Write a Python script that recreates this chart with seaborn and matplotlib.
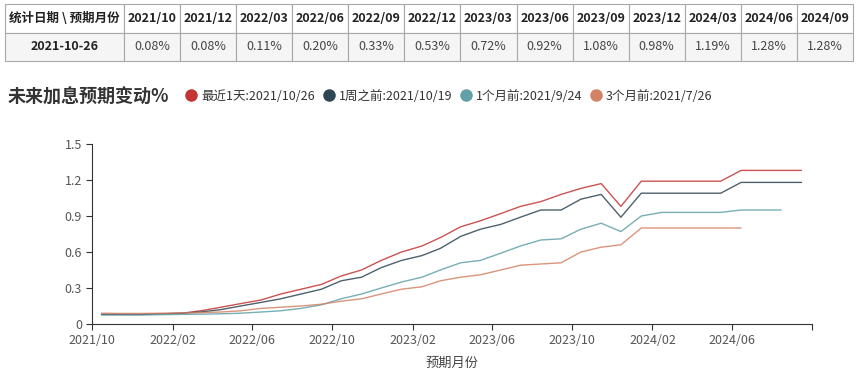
import matplotlib
matplotlib.use("Agg")
import matplotlib.pyplot as plt
import matplotlib.dates as mdates
from matplotlib.lines import Line2D
import matplotlib.ticker as mticker
import seaborn as sns
import pandas as pd

# expected month axis: 2021/10 .. 2024/09
months = pd.date_range("2021-10-01", "2024-09-01", freq="MS")

latest = [0.08, 0.08, 0.08, 0.085, 0.09, 0.11, 0.14, 0.17, 0.20, 0.25, 0.29, 0.33,
          0.40, 0.45, 0.53, 0.60, 0.65, 0.72, 0.81, 0.86, 0.92, 0.98, 1.02, 1.08,
          1.13, 1.17, 0.98, 1.19, 1.19, 1.19, 1.19, 1.19, 1.28, 1.28, 1.28, 1.28]
week_ago = [0.08, 0.08, 0.08, 0.085, 0.09, 0.10, 0.12, 0.15, 0.18, 0.21, 0.25, 0.29,
            0.36, 0.39, 0.47, 0.53, 0.57, 0.63, 0.73, 0.79, 0.83, 0.89, 0.95, 0.95,
            1.04, 1.08, 0.89, 1.09, 1.09, 1.09, 1.09, 1.09, 1.18, 1.18, 1.18, 1.18]
month_ago = [0.075, 0.075, 0.075, 0.078, 0.08, 0.082, 0.085, 0.09, 0.10, 0.11, 0.13, 0.16,
             0.21, 0.25, 0.30, 0.35, 0.39, 0.45, 0.51, 0.53, 0.59, 0.65, 0.70, 0.71,
             0.79, 0.84, 0.77, 0.90, 0.93, 0.93, 0.93, 0.93, 0.95, 0.95, 0.95]
quarter_ago = [0.09, 0.088, 0.088, 0.09, 0.092, 0.095, 0.10, 0.11, 0.13, 0.14, 0.15, 0.165,
               0.19, 0.21, 0.25, 0.29, 0.31, 0.36, 0.39, 0.41, 0.45, 0.49, 0.50, 0.51,
               0.60, 0.64, 0.66, 0.80, 0.80, 0.80, 0.80, 0.80, 0.80]

series_names = ["最近1天:2021/10/26", "1周之前:2021/10/19", "1个月前:2021/9/24", "3个月前:2021/7/26"]
colors = ["#c23531", "#2f4554", "#61a0a8", "#d48265"]

stat_date = "2021-10-26"
table_cols = ["2021/10", "2021/12", "2022/03", "2022/06", "2022/09", "2022/12", "2023/03",
              "2023/06", "2023/09", "2023/12", "2024/03", "2024/06", "2024/09"]

rows = []
for name, vals in zip(series_names, [latest, week_ago, month_ago, quarter_ago]):
    for m, v in zip(months, vals):
        rows.append({"date": m + pd.Timedelta(days=14), "value": v, "series": name})
df = pd.DataFrame(rows)

sns.set_style("ticks")
plt.rcParams["font.family"] = ["Noto Sans CJK SC", "DejaVu Sans"]

fig = plt.figure(figsize=(8.57, 3.71), dpi=100)

# table on top
lookup = dict(zip(months.strftime("%Y/%m"), latest))
table_vals = [f"{lookup[c]:.2f}%" for c in table_cols]
tax = fig.add_axes([5 / 857, 1 - 61 / 371, 848 / 857, 57 / 371])
tax.axis("off")
first_w = 119 / 848
other_w = (1 - first_w) / len(table_cols)
tbl = tax.table(cellText=[[stat_date] + table_vals],
                colLabels=["统计日期 \\ 预期月份"] + table_cols,
                colWidths=[first_w] + [other_w] * len(table_cols),
                cellLoc="center", bbox=[0, 0, 1, 1])
tbl.auto_set_font_size(False)
tbl.set_fontsize(9)
for (r, c), cell in tbl.get_celld().items():
    cell.set_edgecolor("#a8a8a8")
    cell.set_linewidth(0.8)
    cell.get_text().set_color("#222222")
    if r == 0:
        cell.set_facecolor("white")
        cell.get_text().set_fontweight("bold")
    else:
        cell.set_facecolor("#f5f5f5")
        if c == 0:
            cell.get_text().set_fontweight("bold")
        else:
            cell.get_text().set_color("#444444")

# line chart
ax = fig.add_axes([92.3 / 857, 47 / 371, 719.7 / 857, 180 / 371])
sns.lineplot(data=df, x="date", y="value", hue="series", hue_order=series_names,
             palette=dict(zip(series_names, colors)), linewidth=1, alpha=0.85,
             errorbar=None, legend=False, ax=ax)
x_end = pd.Timestamp("2024-10-01")
ax.set_xlim(pd.Timestamp("2021-10-01"), x_end)
ax.set_ylim(0, 1.5)
ax.set_yticks([0, 0.3, 0.6, 0.9, 1.2, 1.5])
ax.set_yticklabels(["0", "0.3", "0.6", "0.9", "1.2", "1.5"])
ax.xaxis.set_major_locator(mdates.MonthLocator(bymonth=[2, 6, 10]))


def month_label(x, pos):
    d = mdates.num2date(x)
    if d.year == x_end.year and d.month == x_end.month:
        return ""
    return d.strftime("%Y/%m")


ax.xaxis.set_major_formatter(mticker.FuncFormatter(month_label))
ax.tick_params(axis="both", labelsize=9, colors="#333333", labelcolor="#555555", length=4, width=0.8)
for s in ["left", "bottom"]:
    ax.spines[s].set_color("#333333")
    ax.spines[s].set_linewidth(0.8)
sns.despine(ax=ax)
ax.set_ylabel("")
ax.set_xlabel("预期月份", fontsize=9.5, color="#444444", labelpad=7)

fig.text(8 / 857, 1 - 97 / 371, "未来加息预期变动%", fontsize=13, fontweight="bold",
         color="#333333", va="center")
handles = [Line2D([], [], marker="o", linestyle="", markersize=8, color=c) for c in colors]
fig.legend(handles, series_names, loc="center left", bbox_to_anchor=(185 / 857, 1 - 96 / 371),
           ncol=4, frameon=False, handletextpad=0.3, columnspacing=0.6, fontsize=9,
           labelcolor="#333333", borderaxespad=0, handlelength=1.0, borderpad=0)

fig.savefig("out.png", dpi=100)
